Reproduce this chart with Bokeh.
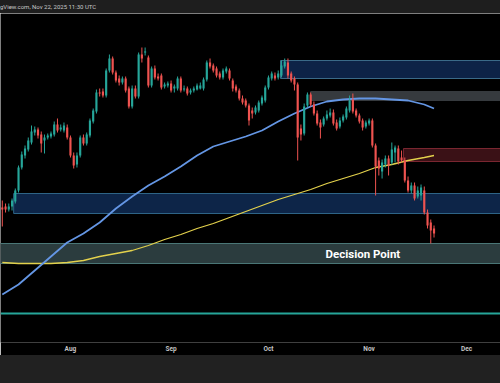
import pandas as pd
from bokeh.plotting import figure
from bokeh.models import Range1d, FixedTicker, Span, Div
from bokeh.layouts import column
from bokeh.core.properties import value
from bokeh.embed import file_html
from bokeh.resources import INLINE

# ---------------- data (daily candles, Jul 11 - Nov 21 2025) ----------------
start_date = "2025-07-11"

opens = [3016, 3028, 2992, 3028, 3088, 3220, 3496, 3640, 3712, 3796,
         3916, 3952, 3892, 3820, 3856, 3868, 3892, 4012, 3952, 3940,
         3976, 3856, 3640, 3532, 3640, 3856, 3784, 3880, 4048, 4168,
         4396, 4408, 4360, 4660, 4804, 4636, 4564, 4516, 4564, 4444,
         4228, 4444, 4348, 4852, 4876, 4816, 4480, 4684, 4588, 4600,
         4468, 4480, 4504, 4444, 4444, 4564, 4432, 4444, 4396, 4420,
         4432, 4444, 4444, 4552, 4756, 4720, 4684, 4624, 4576, 4648,
         4660, 4540, 4468, 4420, 4324, 4300, 4240, 4180, 4156, 4180,
         4264, 4300, 4456, 4564, 4600, 4576, 4600, 4708, 4756, 4624,
         4564, 4492, 3964, 3904, 4240, 4372, 4252, 4144, 4036, 4012,
         4084, 4120, 4156, 4036, 3988, 4060, 4096, 4180, 4312, 4180,
         4120, 4060, 3988, 4024, 4060, 3760, 3580, 3448, 3532, 3604,
         3556, 3676, 3724, 3616, 3580, 3340, 3220, 3280, 3148, 3160,
         3220, 2956, 2836, 2764]

highs = [3100, 3064, 3064, 3124, 3244, 3520, 3688, 3760, 3856, 4000,
         3988, 3976, 3928, 3892, 3904, 3928, 4048, 4084, 4012, 4036,
         4012, 3880, 3676, 3676, 3880, 3892, 3916, 4084, 4204, 4432,
         4444, 4444, 4684, 4852, 4828, 4660, 4600, 4588, 4588, 4468,
         4480, 4480, 4876, 4936, 4936, 4840, 4708, 4720, 4624, 4624,
         4516, 4528, 4540, 4492, 4588, 4588, 4480, 4468, 4444, 4468,
         4504, 4516, 4576, 4780, 4804, 4744, 4708, 4648, 4684, 4708,
         4684, 4564, 4492, 4444, 4360, 4324, 4264, 4216, 4240, 4300,
         4360, 4480, 4600, 4648, 4636, 4660, 4780, 4804, 4804, 4648,
         4588, 4516, 4012, 4264, 4396, 4396, 4288, 4180, 4072, 4108,
         4180, 4204, 4192, 4072, 4096, 4132, 4228, 4360, 4384, 4204,
         4144, 4084, 4060, 4084, 4084, 3784, 3616, 3592, 3640, 3640,
         3796, 3760, 3760, 3700, 3616, 3388, 3316, 3316, 3268, 3292,
         3268, 2992, 2872, 2800]

lows = [2788, 2956, 2968, 2980, 3064, 3196, 3472, 3604, 3688, 3772,
        3880, 3844, 3676, 3664, 3832, 3844, 3868, 3916, 3928, 3916,
        3832, 3616, 3484, 3496, 3616, 3760, 3760, 3856, 4024, 4144,
        4348, 4336, 4336, 4636, 4612, 4516, 4480, 4492, 4396, 4204,
        4204, 4324, 4324, 4756, 4840, 4456, 4456, 4552, 4540, 4432,
        4444, 4456, 4396, 4396, 4420, 4396, 4408, 4360, 4372, 4396,
        4420, 4432, 4420, 4528, 4684, 4636, 4576, 4552, 4552, 4624,
        4540, 4408, 4396, 4300, 4252, 4216, 4000, 4084, 4132, 4156,
        4240, 4276, 4432, 4540, 4540, 4552, 4576, 4684, 4564, 4516,
        4420, 3580, 3820, 3880, 4216, 4228, 4120, 4000, 3844, 3988,
        4060, 4096, 4000, 3940, 3964, 4036, 4072, 4156, 4144, 4096,
        4024, 3940, 3964, 4000, 3736, 3160, 3400, 3364, 3496, 3400,
        3532, 3556, 3532, 3556, 3316, 3196, 3184, 3100, 3124, 3100,
        2932, 2764, 2584, 2656]

closes = [2992, 2992, 3028, 3100, 3220, 3496, 3652, 3724, 3820, 3928,
          3952, 3880, 3784, 3856, 3880, 3904, 4012, 3940, 3976, 4000,
          3856, 3640, 3520, 3640, 3856, 3784, 3892, 4060, 4180, 4396,
          4384, 4360, 4660, 4804, 4636, 4540, 4516, 4564, 4420, 4228,
          4444, 4348, 4852, 4804, 4888, 4480, 4684, 4576, 4564, 4456,
          4492, 4504, 4420, 4468, 4564, 4420, 4444, 4384, 4420, 4444,
          4480, 4480, 4552, 4756, 4708, 4660, 4600, 4576, 4660, 4684,
          4564, 4444, 4420, 4324, 4276, 4240, 4060, 4144, 4216, 4276,
          4336, 4456, 4576, 4624, 4564, 4624, 4720, 4768, 4600, 4540,
          4492, 3856, 3892, 4228, 4372, 4252, 4144, 4024, 3976, 4084,
          4132, 4156, 4024, 3964, 4060, 4108, 4204, 4300, 4168, 4120,
          4048, 3976, 4036, 4060, 3760, 3508, 3484, 3556, 3604, 3520,
          3712, 3736, 3568, 3580, 3340, 3220, 3280, 3124, 3220, 3256,
          2956, 2800, 2740, 2704]

# moving averages sampled along the candles (candle index -> value)
ma_idx = [0, 5, 10, 15, 20, 25, 30, 35, 40, 45, 50, 55, 60, 65,
          70, 75, 80, 85, 90, 95, 100, 105, 110, 115, 120, 125, 130, 133]
ma_blue = [1972, 2092, 2260, 2428, 2596, 2704, 2836, 3004, 3148, 3280,
           3388, 3508, 3640, 3748, 3808, 3868, 3940, 4048, 4144, 4228,
           4288, 4312, 4324, 4324, 4312, 4300, 4252, 4204]
ma_yellow = [2356, 2344, 2344, 2344, 2356, 2380, 2428, 2464, 2500, 2560,
             2632, 2692, 2764, 2824, 2896, 2968, 3040, 3112, 3172, 3232,
             3304, 3364, 3424, 3496, 3532, 3580, 3616, 3640]

# zones
zone_left = ["2025-10-04 17:00", "2025-10-14 00:00", "2025-11-11 14:00",
             "2025-07-14 12:00", "2025-07-01 00:00"]
zone_right = "2025-12-31"
zone_bottom = [4564, 4300, 3568, 2944, 2344]
zone_top = [4780, 4408, 3724, 3184, 2584]
zone_fill = ["#0d2347", "#363a3e", "#3a1116", "#0d2548", "#2b3c3e"]
zone_line = ["#3a6a88", "#363a3e", "#7a2630", "#2e6486", "#4a7676"]

level_price = 1744
label_text = "Decision Point"
label_date = "2025-10-18 14:00"
label_price = 2464

tick_dates = ["2025-08-01", "2025-09-01", "2025-10-01", "2025-11-01", "2025-12-01"]
tick_labels = ["Aug", "Sep", "Oct", "Nov", "Dec"]

header_text = "gView.com, Nov 22, 2025 11:30 UTC"

# ---------------- build ----------------
DAY = 86400000
dates = pd.date_range(start_date, periods=len(closes), freq="D")
t0 = pd.Timestamp(start_date)
x_start = t0 - pd.Timedelta(hours=13.3)
x_end = pd.Timestamp("2025-12-11 11:30")

p = figure(x_axis_type="datetime", y_axis_location=None,
           frame_width=500, frame_height=329, min_border=0, min_border_bottom=12,
           x_range=Range1d(x_start, x_end), y_range=Range1d(1396, 5344),
           output_backend="svg", toolbar_location=None,
           background_fill_color="black", border_fill_color="black",
           outline_line_color=None)
p.grid.visible = False

# zones
p.quad(left=[pd.Timestamp(z) for z in zone_left], right=[pd.Timestamp(zone_right)] * len(zone_left),
       bottom=zone_bottom, top=zone_top, fill_color=zone_fill, line_color=zone_line, line_width=1)

p.add_layout(Span(location=level_price, dimension="width", line_color="#26a69a", line_width=1.8))

# moving averages
ma_dates = [dates[i] for i in ma_idx]
p.line(ma_dates, ma_yellow, line_color="#e3d14c", line_width=1.3)
p.line(ma_dates, ma_blue, line_color="#6496e4", line_width=1.8)

# candles
up_col, dn_col = "#26a69a", "#ef5350"
colors = [up_col if c >= o else dn_col for o, c in zip(opens, closes)]
p.segment(x0=dates, y0=lows, x1=dates, y1=highs, line_color=colors, line_width=1)
p.vbar(x=dates, width=0.66 * DAY, top=[max(o, c) for o, c in zip(opens, closes)],
       bottom=[min(o, c) for o, c in zip(opens, closes)], fill_color=colors, line_color=None)

# label
p.text(x=[pd.Timestamp(label_date)], y=[label_price], text=[label_text], text_color="white",
       text_font=value("Roboto"), text_font_style="bold", text_font_size="11.5px",
       text_align="left", text_baseline="middle")

# x axis
tick_ms = [pd.Timestamp(d).value // 10**6 for d in tick_dates]
ax = p.xaxis[0]
ax.ticker = FixedTicker(ticks=tick_ms)
ax.major_label_overrides = {t: l for t, l in zip(tick_ms, tick_labels)}
ax.axis_line_color = None
ax.major_tick_line_color = None
ax.minor_tick_line_color = None
ax.major_tick_out = 0
ax.major_tick_in = 0
ax.minor_tick_out = 0
ax.minor_tick_in = 0
ax.major_label_standoff = 2
ax.major_label_text_color = "#c4c4c4"
ax.major_label_text_font = "Roboto"
ax.major_label_text_font_style = "bold"
ax.major_label_text_font_size = "6.5px"

top_bar = Div(text='<div style="background:#1e1e1e;color:#c8c8c8;font-family:Roboto;font-size:6px;'
                   'line-height:13px;height:13px;width:500px;white-space:nowrap;overflow:hidden;">'
                   + header_text + '</div>',
              width=500, height=13, styles={"background-color": "#1e1e1e", "margin": "0", "padding": "0"})
bottom_bar = Div(text='<div style="background:#212121;height:29px;width:500px;"></div>',
                 width=500, height=29, styles={"background-color": "#212121", "margin": "0", "padding": "0"})

layout = column(top_bar, p, bottom_bar, spacing=0)
open("out.html", "w").write(file_html(layout, INLINE))
